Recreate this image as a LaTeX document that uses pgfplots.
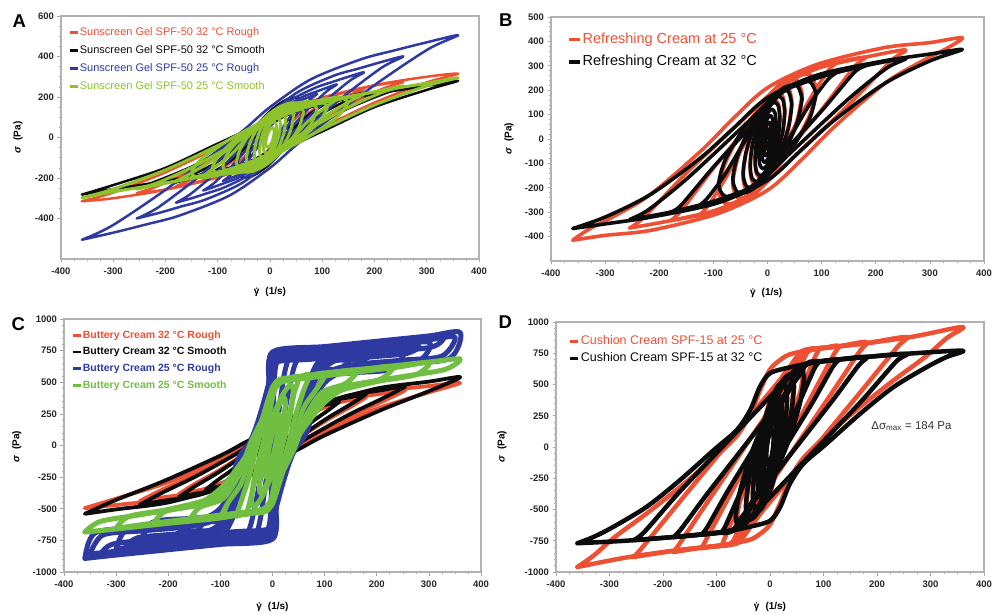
\documentclass[border=0pt]{standalone}
\usepackage{fontspec}
\setmainfont{Liberation Sans}
\usepackage{pgfplots}
\pgfplotsset{compat=1.18}

\definecolor{cRed}{RGB}{238,80,52}
\definecolor{cBlk}{RGB}{12,12,12}
\definecolor{cBlu}{RGB}{46,58,162}
\definecolor{cGrnA}{RGB}{142,194,44}
\definecolor{cGrnC}{RGB}{112,190,66}

% shear rate symbol: gamma with a dot drawn above it
\newcommand{\gdot}{\tikz[baseline=(g.base)]{\node[inner sep=0pt, outer sep=0pt] (g) {γ}; \fill ([yshift=1.4pt]g.north) circle (0.75pt);}}

\pgfplotsset{
  panel/.style={
    scale only axis, anchor=south west,
    xmin=-400, xmax=400, xtick={-400,-300,...,400},
    minor x tick num=3,
    tick align=outside, tick pos=left,
    major tick length=3.5pt, minor tick length=2pt,
    axis line style={gray!60, line width=1.1pt},
    tick style={gray!70, line width=0.6pt},
    tick label style={font=\bfseries\fontsize{9.5}{11}\selectfont, text=black!85},
    xticklabel style={yshift=-2pt},
    /pgf/number format/assume math mode=true,
    /pgf/number format/1000 sep={},
    legend cell align=left,
    legend image code/.code={\draw[##1] (0pt,0pt) -- (8pt,0pt);},
    xlabel={\gdot\hspace{0.6em}(1/s)},
    ylabel={\textit{σ}\hspace{0.6em}(Pa)},
    label style={font=\bfseries\fontsize{10}{12}\selectfont},
  },
  lp/.style={smooth, forget plot, line join=round, line cap=round},
  aR/.style={lp, cRed, line width=2.5pt},
  aK/.style={lp, cBlk, line width=2.5pt},
  aB/.style={lp, cBlu, line width=2.5pt},
  aG/.style={lp, cGrnA, line width=3pt},
  bR/.style={lp, cRed, line width=3.6pt},
  bK/.style={lp, cBlk, line width=3.6pt},
  cR/.style={lp, cRed, line width=3.8pt},
  cK/.style={lp, cBlk, line width=3.8pt},
  cB/.style={lp, cBlu, line width=5pt},
  cG/.style={lp, cGrnC, line width=5pt},
  dR/.style={lp, cRed, line width=4.5pt},
  dK/.style={lp, cBlk, line width=4.5pt},
}

\begin{document}
\begin{tikzpicture}
\useasboundingbox (0pt,0pt) rectangle (997pt,614pt);

%% ---------------- A: sunscreen gel ----------------
\begin{axis}[panel, at={(61pt,355pt)}, width=418pt, height=243pt,
  ymin=-600, ymax=600, ytick={-400,-200,...,600}, minor y tick num=3,
  xlabel style={at={(axis description cs:0.5,-0.136)}, anchor=center},
  ylabel style={at={(axis description cs:-0.103,0.5)}, anchor=center},
  legend style={at={(axis description cs:0.017,0.958)}, anchor=north west,
    draw=none, fill=none, inner sep=0pt, row sep=5.4pt,
    font=\fontsize{11}{12}\selectfont,
    nodes={inner sep=1pt, text height=8pt, text depth=2.5pt}},
]
\addlegendimage{cRed, line width=2.6pt}\addlegendentry{\textcolor{cRed}{Sunscreen Gel SPF-50 32 °C Rough}}
\addlegendimage{cBlk, line width=2.6pt}\addlegendentry{\textcolor{cBlk}{Sunscreen Gel SPF-50 32 °C Smooth}}
\addlegendimage{cBlu, line width=2.6pt}\addlegendentry{\textcolor{cBlu}{Sunscreen Gel SPF-50 25 °C Rough}}
\addlegendimage{cGrnA, line width=2.6pt}\addlegendentry{\textcolor{cGrnA}{Sunscreen Gel SPF-50 25 °C Smooth}}
% 32 C rough
\addplot[aR] coordinates {(-360,-315) (-300,-272) (-200,-172) (-100,-48) (0,95) (100,190) (200,258) (300,300) (360,315) (300,272) (200,172) (100,48) (0,-95) (-100,-190) (-200,-258) (-300,-300) (-360,-315)};
\addplot[aR] coordinates {(-255,-275) (-212,-237) (-142,-150) (-71,-42) (0,83) (71,166) (142,225) (212,262) (255,275) (212,237) (142,150) (71,42) (0,-83) (-71,-166) (-142,-225) (-212,-262) (-255,-275)};
\addplot[aR] coordinates {(-180,-240) (-150,-207) (-100,-131) (-50,-36) (0,72) (50,145) (100,197) (150,228) (180,240) (150,207) (100,131) (50,36) (0,-72) (-50,-145) (-100,-197) (-150,-228) (-180,-240)};
\addplot[aR] coordinates {(-128,-210) (-107,-181) (-71,-115) (-36,-32) (0,63) (36,127) (71,172) (107,200) (128,210) (107,181) (71,115) (36,32) (0,-63) (-36,-127) (-71,-172) (-107,-200) (-128,-210)};
\addplot[aR] coordinates {(-90,-180) (-75,-155) (-50,-98) (-25,-27) (0,54) (25,109) (50,147) (75,171) (90,180) (75,155) (50,98) (25,27) (0,-54) (-25,-109) (-50,-147) (-75,-171) (-90,-180)};
% 32 C smooth
\addplot[aK] coordinates {(-360,-282) (-300,-235) (-200,-150) (-100,-30) (0,85) (100,165) (200,215) (300,255) (360,280) (300,235) (200,150) (100,30) (0,-85) (-100,-165) (-200,-215) (-300,-255) (-360,-282)};
\addplot[aK] coordinates {(-255,-250) (-212,-210) (-142,-134) (-71,-27) (0,76) (71,147) (142,192) (212,228) (255,250) (212,210) (142,134) (71,27) (0,-76) (-71,-147) (-142,-192) (-212,-228) (-255,-250)};
\addplot[aK] coordinates {(-180,-222) (-150,-186) (-100,-119) (-50,-24) (0,67) (50,131) (100,170) (150,202) (180,222) (150,186) (100,119) (50,24) (0,-67) (-50,-131) (-100,-170) (-150,-202) (-180,-222)};
\addplot[aK] coordinates {(-128,-200) (-107,-168) (-71,-107) (-36,-21) (0,61) (36,118) (71,154) (107,182) (128,200) (107,168) (71,107) (36,21) (0,-61) (-36,-118) (-71,-154) (-107,-182) (-128,-200)};
\addplot[aK] coordinates {(64,150) (55,195) (32,188) (0,130) (-32,38) (-55,-65) (-64,-150) (-55,-195) (-32,-188) (0,-130) (32,-38) (55,65) (64,150)};
\addplot[aK] coordinates {(40,110) (35,155) (20,159) (0,120) (-20,49) (-35,-35) (-40,-110) (-35,-155) (-20,-159) (0,-120) (20,-49) (35,35) (40,110)};
% 25 C rough
\addplot[aB] coordinates {(-360,-505) (-304,-438) (-209,-275) (-113,-90) (-49,40) (0,150) (78,287) (174,386) (238,430) (300,470) (360,505) (304,438) (209,275) (113,90) (49,-40) (0,-150) (-78,-287) (-174,-386) (-238,-430) (-300,-470) (-360,-505)};
\addplot[aB] coordinates {(-255,-400) (-215,-347) (-148,-218) (-80,-71) (-35,32) (0,119) (55,227) (123,306) (169,340) (212,372) (255,400) (215,347) (148,218) (80,71) (35,-32) (0,-119) (-55,-227) (-123,-306) (-169,-340) (-212,-372) (-255,-400)};
\addplot[aB] coordinates {(-180,-322) (-152,-279) (-104,-175) (-57,-57) (-24,25) (0,96) (39,183) (87,246) (119,274) (150,300) (180,322) (152,279) (104,175) (57,57) (24,-25) (0,-96) (-39,-183) (-87,-246) (-119,-274) (-150,-300) (-180,-322)};
\addplot[aB] coordinates {(-128,-262) (-108,-227) (-74,-143) (-40,-47) (-17,21) (0,78) (28,149) (62,200) (85,223) (107,244) (128,262) (108,227) (74,143) (40,47) (17,-21) (0,-78) (-28,-149) (-62,-200) (-85,-223) (-107,-244) (-128,-262)};
\addplot[aB] coordinates {(-90,-215) (-76,-186) (-52,-117) (-28,-38) (-12,17) (0,64) (20,122) (43,164) (59,183) (75,200) (90,215) (76,186) (52,117) (28,38) (12,-17) (0,-64) (-20,-122) (-43,-164) (-59,-183) (-75,-200) (-90,-215)};
\addplot[aB] coordinates {(-64,-178) (-54,-154) (-37,-97) (-20,-32) (-9,14) (0,53) (14,101) (31,136) (42,151) (53,166) (64,178) (54,154) (37,97) (20,32) (9,-14) (0,-53) (-14,-101) (-31,-136) (-42,-151) (-53,-166) (-64,-178)};
% 25 C smooth
\addplot[aG] coordinates {(-360,-298) (-300,-255) (-200,-160) (-100,-40) (0,90) (100,175) (200,225) (300,268) (360,295) (300,255) (200,160) (100,40) (0,-90) (-100,-175) (-200,-225) (-300,-268) (-360,-298)};
\addplot[aG] coordinates {(-255,-255) (-212,-220) (-142,-138) (-71,-35) (0,78) (71,151) (142,195) (212,232) (255,255) (212,220) (142,138) (71,35) (0,-78) (-71,-151) (-142,-195) (-212,-232) (-255,-255)};
\addplot[aG] coordinates {(-180,-215) (-150,-175) (-100,-95) (-50,5) (0,95) (50,145) (100,172) (150,198) (180,215) (150,175) (100,95) (50,-5) (0,-95) (-50,-145) (-100,-172) (-150,-198) (-180,-215)};
\addplot[aG] coordinates {(150,175) (130,199) (75,170) (0,95) (-75,-6) (-130,-104) (-150,-175) (-130,-199) (-75,-170) (0,-95) (75,6) (130,104) (150,175)};
\addplot[aG] coordinates {(-128,-190) (-107,-150) (-71,-75) (-36,20) (0,100) (36,140) (71,162) (107,180) (128,190) (107,150) (71,75) (36,-20) (0,-100) (-36,-140) (-71,-162) (-107,-180) (-128,-190)};
\addplot[aG] coordinates {(110,150) (95,180) (55,162) (0,100) (-55,12) (-95,-80) (-110,-150) (-95,-180) (-55,-162) (0,-100) (55,-12) (95,80) (110,150)};
\addplot[aG] coordinates {(90,140) (78,176) (45,165) (0,110) (-45,25) (-78,-66) (-90,-140) (-78,-176) (-45,-165) (0,-110) (45,-25) (78,66) (90,140)};
\addplot[aG] coordinates {(64,125) (55,168) (32,166) (0,120) (-32,41) (-55,-48) (-64,-125) (-55,-168) (-32,-166) (0,-120) (32,-41) (55,48) (64,125)};
\addplot[aG] coordinates {(45,105) (39,151) (23,156) (0,120) (-23,51) (-39,-31) (-45,-105) (-39,-151) (-23,-156) (0,-120) (23,-51) (39,31) (45,105)};
\addplot[aG] coordinates {(30,85) (26,131) (15,142) (0,115) (-15,57) (-26,-16) (-30,-85) (-26,-131) (-15,-142) (0,-115) (15,-57) (26,16) (30,85)};
\addplot[aG] coordinates {(20,65) (17,101) (10,110) (0,90) (-10,45) (-17,-11) (-20,-65) (-17,-101) (-10,-110) (0,-90) (10,-45) (17,11) (20,65)};
\addplot[aG] coordinates {(13,45) (11,71) (6.5,78) (0,65) (-6.5,33) (-11,-6) (-13,-45) (-11,-71) (-6.5,-78) (0,-65) (6.5,-33) (11,6) (13,45)};
\addplot[aG] coordinates {(8,28) (7,44) (4,49) (0,40) (-4,21) (-7,-4) (-8,-28) (-7,-44) (-4,-49) (0,-40) (4,-21) (7,4) (8,28)};
\end{axis}

%% ---------------- B: refreshing cream ----------------
\begin{axis}[panel, at={(551pt,353pt)}, width=433pt, height=244pt,
  ymin=-500, ymax=500, ytick={-400,-300,...,500}, minor y tick num=4,
  xlabel style={at={(axis description cs:0.497,-0.131)}, anchor=center},
  ylabel style={at={(axis description cs:-0.097,0.5)}, anchor=center},
  legend style={at={(axis description cs:0.037,0.94)}, anchor=north west,
    draw=none, fill=none, inner sep=0pt, row sep=6.9pt,
    font=\fontsize{14.5}{16}\selectfont,
    nodes={inner sep=1pt, text height=10.5pt, text depth=3.1pt}},
  legend image code/.code={\draw[#1] (0pt,0pt) -- (11pt,0pt);},
]
\addlegendimage{cRed, line width=3.4pt}\addlegendentry{\textcolor{cRed}{Refreshing Cream at 25 °C}}
\addlegendimage{cBlk, line width=3.4pt}\addlegendentry{\textcolor{cBlk}{Refreshing Cream at 32 °C}}
% 25 C
\addplot[bR] coordinates {(-360,-415) (-330,-370) (-277,-309) (-216,-227) (-123,-49) (-62,87) (0,210) (92,306) (215,374) (300,395) (360,415) (330,370) (277,309) (216,227) (123,49) (62,-87) (0,-210) (-92,-306) (-215,-374) (-300,-395) (-360,-415)};
\addplot[bR] coordinates {(-255,-365) (-228,-320) (-150,-140) (-60,49) (0,175) (35,245) (90,290) (180,335) (255,365) (228,320) (150,140) (60,-49) (0,-175) (-35,-245) (-90,-290) (-180,-335) (-255,-365)};
\addplot[bR] coordinates {(-180,-335) (-160,-295) (-100,-120) (-40,42) (0,150) (30,230) (60,270) (120,310) (180,335) (160,295) (100,120) (40,-42) (0,-150) (-30,-230) (-60,-270) (-120,-310) (-180,-335)};
\addplot[bR] coordinates {(-128,-315) (-112,-280) (-80,-170) (-45,-30) (0,150) (30,220) (65,265) (100,295) (128,315) (112,280) (80,170) (45,30) (0,-150) (-30,-220) (-65,-265) (-100,-295) (-128,-315)};
\addplot[bR] coordinates {(90,210) (78,264) (45,248) (0,165) (-45,38) (-78,-99) (-90,-210) (-78,-264) (-45,-248) (0,-165) (45,-38) (78,99) (90,210)};
\addplot[bR] coordinates {(64,185) (55,240) (32,231) (0,160) (-32,46) (-55,-80) (-64,-185) (-55,-240) (-32,-231) (0,-160) (32,-46) (55,80) (64,185)};
\addplot[bR] coordinates {(45,155) (39,211) (23,211) (0,155) (-23,56) (-39,-56) (-45,-155) (-39,-211) (-23,-211) (0,-155) (23,-56) (39,56) (45,155)};
\addplot[bR] coordinates {(32,120) (28,176) (16,185) (0,145) (-16,65) (-28,-31) (-32,-120) (-28,-176) (-16,-185) (0,-145) (16,-65) (28,31) (32,120)};
\addplot[bR] coordinates {(23,92) (20,145) (12,160) (0,132) (-12,68) (-20,-14) (-23,-92) (-20,-145) (-12,-160) (0,-132) (12,-68) (20,14) (23,92)};
% 32 C
\addplot[bK] coordinates {(-360,-367) (-300,-320) (-216,-227) (-123,-76) (-62,46) (0,169) (92,262) (215,320) (300,348) (360,367) (300,320) (216,227) (123,76) (62,-46) (0,-169) (-92,-262) (-215,-320) (-300,-348) (-360,-367)};
\addplot[bK] coordinates {(-255,-330) (-220,-290) (-150,-165) (-60,20) (0,145) (35,205) (90,250) (180,300) (255,330) (220,290) (150,165) (60,-20) (0,-145) (-35,-205) (-90,-250) (-180,-300) (-255,-330)};
\addplot[bK] coordinates {(-180,-300) (-160,-272) (-100,-115) (-40,29) (0,125) (28,195) (60,225) (120,270) (180,300) (160,272) (100,115) (40,-29) (0,-125) (-28,-195) (-60,-225) (-120,-270) (-180,-300)};
\addplot[bK] coordinates {(-128,-275) (-112,-245) (-80,-150) (-45,-20) (0,130) (30,195) (65,235) (100,260) (128,275) (112,245) (80,150) (45,20) (0,-130) (-30,-195) (-65,-235) (-100,-260) (-128,-275)};
\addplot[bK] coordinates {(90,185) (78,235) (45,222) (0,150) (-45,37) (-78,-85) (-90,-185) (-78,-235) (-45,-222) (0,-150) (45,-37) (78,85) (90,185)};
\addplot[bK] coordinates {(64,165) (55,218) (32,212) (0,150) (-32,47) (-55,-68) (-64,-165) (-55,-218) (-32,-212) (0,-150) (32,-47) (55,68) (64,165)};
\addplot[bK] coordinates {(45,140) (39,193) (23,196) (0,145) (-23,56) (-39,-48) (-45,-140) (-39,-193) (-23,-196) (0,-145) (23,-56) (39,48) (45,140)};
\addplot[bK] coordinates {(32,110) (28,164) (16,174) (0,138) (-16,64) (-28,-26) (-32,-110) (-28,-164) (-16,-174) (0,-138) (16,-64) (28,26) (32,110)};
\addplot[bK] coordinates {(23,85) (20,136) (12,150) (0,125) (-12,65) (-20,-11) (-23,-85) (-20,-136) (-12,-150) (0,-125) (12,-65) (20,11) (23,85)};
\addplot[bK] coordinates {(16,62) (14,106) (8,122) (0,105) (-8,60) (-14,-1) (-16,-62) (-14,-106) (-8,-122) (0,-105) (8,-60) (14,1) (16,62)};
\addplot[bK] coordinates {(11,45) (9.5,81) (5.5,96) (0,85) (-5.5,51) (-9.5,3) (-11,-45) (-9.5,-81) (-5.5,-96) (0,-85) (5.5,-51) (9.5,-3) (11,45)};
\addplot[bK] coordinates {(7,30) (6,57) (3.5,69) (0,62) (-3.5,39) (-6,5) (-7,-30) (-6,-57) (-3.5,-69) (0,-62) (3.5,-39) (6,-5) (7,30)};
\addplot[bK] coordinates {(4,16) (3.5,33) (2,41) (0,38) (-2,25) (-3.5,5) (-4,-16) (-3.5,-33) (-2,-41) (0,-38) (2,-25) (3.5,-5) (4,16)};
\end{axis}

%% ---------------- C: buttery cream ----------------
\begin{axis}[panel, at={(64pt,42pt)}, width=417pt, height=253pt,
  ymin=-1000, ymax=1000, ytick={-1000,-750,...,1000}, minor y tick num=4,
  xlabel style={at={(axis description cs:0.5,-0.138)}, anchor=center},
  ylabel style={at={(axis description cs:-0.113,0.494)}, anchor=center},
  legend style={at={(axis description cs:0.017,0.96)}, anchor=north west,
    draw=none, fill=none, inner sep=0pt, row sep=4.6pt,
    font=\bfseries\fontsize{10.5}{12}\selectfont,
    nodes={inner sep=1pt, text height=7.8pt, text depth=2.3pt}},
]
\addlegendimage{cRed, line width=2.6pt}\addlegendentry{\textcolor{cRed}{Buttery Cream 32 °C Rough}}
\addlegendimage{cBlk, line width=2.6pt}\addlegendentry{\textcolor{cBlk}{Buttery Cream 32 °C Smooth}}
\addlegendimage{cBlu, line width=2.6pt}\addlegendentry{\textcolor{cBlu}{Buttery Cream 25 °C Rough}}
\addlegendimage{cGrnC, line width=2.6pt}\addlegendentry{\textcolor{cGrnC}{Buttery Cream 25 °C Smooth}}
% 32 C rough
\addplot[cR] coordinates {(-360,-495) (-300,-420) (-200,-290) (-100,-110) (-50,0) (0,100) (100,300) (200,420) (300,470) (360,495) (300,420) (200,290) (100,110) (50,0) (0,-100) (-100,-300) (-200,-420) (-300,-470) (-360,-495)};
\addplot[cR] coordinates {(-255,-440) (-212,-350) (-147,-228) (-71,-65) (-35,25) (0,106) (71,269) (142,367) (212,411) (255,440) (212,350) (147,228) (71,65) (35,-25) (0,-106) (-71,-269) (-142,-367) (-212,-411) (-255,-440)};
\addplot[cR] coordinates {(-180,-385) (-150,-306) (-104,-200) (-50,-57) (-25,22) (0,93) (50,235) (100,321) (150,360) (180,385) (150,306) (104,200) (50,57) (25,-22) (0,-93) (-50,-235) (-100,-321) (-150,-360) (-180,-385)};
% 32 C smooth
\addplot[cK] coordinates {(-360,-540) (-300,-430) (-208,-280) (-100,-80) (-50,30) (0,130) (100,330) (200,450) (300,505) (360,540) (300,430) (208,280) (100,80) (50,-30) (0,-130) (-100,-330) (-200,-450) (-300,-505) (-360,-540)};
\addplot[cK] coordinates {(-255,-470) (-212,-374) (-147,-244) (-71,-70) (-35,26) (0,113) (71,287) (142,392) (212,439) (255,470) (212,374) (147,244) (71,70) (35,-26) (0,-113) (-71,-287) (-142,-392) (-212,-439) (-255,-470)};
\addplot[cK] coordinates {(-180,-410) (-150,-326) (-104,-213) (-50,-61) (-25,23) (0,99) (50,251) (100,342) (150,383) (180,410) (150,326) (104,213) (50,61) (25,-23) (0,-99) (-50,-251) (-100,-342) (-150,-383) (-180,-410)};
\addplot[cK] coordinates {(-128,-350) (-107,-279) (-74,-182) (-36,-52) (-18,20) (0,84) (36,214) (71,292) (107,327) (128,350) (107,279) (74,182) (36,52) (18,-20) (0,-84) (-36,-214) (-71,-292) (-107,-327) (-128,-350)};
\addplot[cK] coordinates {(-90,-290) (-75,-231) (-52,-151) (-25,-43) (-12.5,16) (0,70) (25,177) (50,242) (75,271) (90,290) (75,231) (52,151) (25,43) (12.5,-16) (0,-70) (-25,-177) (-50,-242) (-75,-271) (-90,-290)};
% 25 C rough
\addplot[cB] coordinates {(-360,-893) (-340,-690) (-250,-645) (-150,-600) (-95,-470) (-58,-60) (-22,130) (-3,470) (0,740) (100,782) (200,824) (300,866) (360,893) (340,690) (250,645) (150,600) (95,470) (58,60) (22,-130) (3,-470) (0,-740) (-100,-782) (-200,-824) (-300,-866) (-360,-893)};
\addplot[cB] coordinates {(-350,-857) (-325,-707) (-250,-675) (-150,-633) (-100,-540) (-65,-100) (-28,110) (-6,450) (0,710) (100,752) (200,794) (300,836) (350,857) (325,707) (250,675) (150,633) (100,540) (65,100) (28,-110) (6,-450) (0,-710) (-100,-752) (-200,-794) (-300,-836) (-350,-857)};
\addplot[cB] coordinates {(-330,-864) (-305,-778) (-200,-734) (-120,-700) (-80,-560) (-55,-80) (-20,120) (-4,460) (0,725) (100,767) (200,809) (300,851) (330,864) (305,778) (200,734) (120,700) (80,560) (55,80) (20,-120) (4,-460) (0,-725) (-100,-767) (-200,-809) (-300,-851) (-330,-864)};
\addplot[cB] coordinates {(-300,-816) (-278,-660) (-200,-625) (-120,-590) (-85,-420) (-60,-90) (-25,120) (-5,460) (0,690) (100,732) (200,774) (300,816) (278,660) (200,625) (120,590) (85,420) (60,90) (25,-120) (5,-460) (0,-690) (-100,-732) (-200,-774) (-300,-816)};
\addplot[cB] coordinates {(-280,-788) (-258,-728) (-200,-704) (-120,-670) (-80,-500) (-58,-80) (-24,120) (-5,460) (0,670) (100,712) (200,754) (280,788) (258,728) (200,704) (120,670) (80,500) (58,80) (24,-120) (5,-460) (0,-670) (-100,-712) (-200,-754) (-280,-788)};
\addplot[cB] coordinates {(-255,-787) (-230,-607) (-150,-573) (-95,-520) (-62,-150) (-32,140) (-8,480) (0,680) (100,722) (200,764) (255,787) (230,607) (150,573) (95,520) (62,150) (32,-140) (8,-480) (0,-680) (-100,-722) (-200,-764) (-255,-787)};
\addplot[cB] coordinates {(-200,-804) (-178,-685) (-100,-652) (-70,-400) (-45,-20) (-18,120) (-4,450) (0,720) (100,762) (200,804) (178,685) (100,652) (70,400) (45,20) (18,-120) (4,-450) (0,-720) (-100,-762) (-200,-804)};
\addplot[cB] coordinates {(-150,-713) (-128,-604) (-80,-584) (-55,-250) (-30,100) (-8,460) (0,650) (75,682) (150,713) (128,604) (80,584) (55,250) (30,-100) (8,-460) (0,-650) (-75,-682) (-150,-713)};
\addplot[cB] coordinates {(-100,-737) (-82,-624) (-58,-380) (-40,-60) (-20,160) (-5,450) (0,695) (50,716) (100,737) (82,624) (58,380) (40,60) (20,-160) (5,-450) (0,-695) (-50,-716) (-100,-737)};
\addplot[cB] coordinates {(-50,-720) (-40,-600) (-25,-300) (-10,100) (0,500) (5,700) (25,710) (50,720) (40,600) (25,300) (10,-100) (0,-500) (-5,-700) (-25,-710) (-50,-720)};
\addplot[cB] coordinates {(-30,-700) (-22,-550) (-10,-200) (0,200) (5,600) (15,690) (30,700) (22,550) (10,200) (0,-200) (-5,-600) (-15,-690) (-30,-700)};
% 25 C smooth
\addplot[cG] coordinates {(-360,-684) (-330,-600) (-250,-545) (-150,-470) (-100,-340) (-55,-107) (-23,130) (-4,341) (9,512) (48,539) (112,579) (200,615) (300,660) (360,684) (330,600) (250,545) (150,470) (100,340) (55,107) (23,-130) (4,-341) (-9,-512) (-48,-539) (-112,-579) (-200,-615) (-300,-660) (-360,-684)};
\addplot[cG] coordinates {(-300,-655) (-275,-560) (-200,-505) (-120,-420) (-80,-300) (-50,-90) (-20,140) (-2,350) (9,500) (60,530) (150,575) (240,620) (300,655) (275,560) (200,505) (120,420) (80,300) (50,90) (20,-140) (2,-350) (-9,-500) (-60,-530) (-150,-575) (-240,-620) (-300,-655)};
\addplot[cG] coordinates {(-230,-625) (-205,-520) (-140,-470) (-90,-380) (-62,-200) (-42,20) (-15,250) (3,450) (12,505) (80,545) (160,590) (230,625) (205,520) (140,470) (90,380) (62,200) (42,-20) (15,-250) (-3,-450) (-12,-505) (-80,-545) (-160,-590) (-230,-625)};
\addplot[cG] coordinates {(-160,-595) (-140,-490) (-95,-420) (-65,-240) (-45,-40) (-22,180) (-5,400) (10,500) (80,550) (160,595) (140,490) (95,420) (65,240) (45,40) (22,-180) (5,-400) (-10,-500) (-80,-550) (-160,-595)};
\addplot[cG] coordinates {(-100,-570) (-85,-450) (-60,-300) (-45,-110) (-28,100) (-10,330) (5,480) (50,530) (100,570) (85,450) (60,300) (45,110) (28,-100) (10,-330) (-5,-480) (-50,-530) (-100,-570)};
\addplot[cG] coordinates {(-70,-560) (-60,-440) (-45,-250) (-32,-40) (-18,180) (-5,380) (5,490) (35,520) (70,560) (60,440) (45,250) (32,40) (18,-180) (5,-380) (-5,-490) (-35,-520) (-70,-560)};
\addplot[cG] coordinates {(-50,-545) (-42,-420) (-30,-200) (-18,20) (-6,250) (3,430) (20,510) (50,545) (42,420) (30,200) (18,-20) (6,-250) (-3,-430) (-20,-510) (-50,-545)};
\addplot[cG] coordinates {(40,430) (35,482) (20,405) (0,220) (-20,-25) (-35,-262) (-40,-430) (-35,-482) (-20,-405) (0,-220) (20,25) (35,262) (40,430)};
\addplot[cG] coordinates {(25,340) (22,379) (12.5,317) (0,170) (-12.5,-23) (-22,-209) (-25,-340) (-22,-379) (-12.5,-317) (0,-170) (12.5,23) (22,209) (25,340)};
\addplot[cG] coordinates {(14,230) (12,249) (7,202) (0,100) (-7,-28) (-12,-149) (-14,-230) (-12,-249) (-7,-202) (0,-100) (7,28) (12,149) (14,230)};
\end{axis}

%% ---------------- D: cushion cream ----------------
\begin{axis}[panel, at={(556pt,42pt)}, width=428pt, height=250pt,
  ymin=-1000, ymax=1000, ytick={-1000,-750,...,1000}, minor y tick num=4,
  xlabel style={at={(axis description cs:0.5,-0.14)}, anchor=center},
  ylabel style={at={(axis description cs:-0.126,0.5)}, anchor=center},
  legend style={at={(axis description cs:0.03,0.952)}, anchor=north west,
    draw=none, fill=none, inner sep=0pt, row sep=3.5pt,
    font=\fontsize{12.5}{14}\selectfont,
    nodes={inner sep=1pt, text height=9.1pt, text depth=2.7pt}},
]
\addlegendimage{cRed, line width=2.8pt}\addlegendentry{\textcolor{cRed}{Cushion Cream SPF-15 at 25 °C}}
\addlegendimage{cBlk, line width=2.8pt}\addlegendentry{\textcolor{cBlk}{Cushion Cream SPF-15 at 32 °C}}
% 25 C
\addplot[dR] coordinates {(-360,-960) (-330,-870) (-290,-720) (-230,-530) (-168,-320) (-105,-90) (-62,90) (-37,260) (-19,450) (0,620) (20,700) (40,745) (90,785) (180,830) (270,885) (360,960) (330,870) (290,720) (230,530) (168,320) (105,90) (62,-90) (37,-260) (19,-450) (0,-620) (-20,-700) (-40,-745) (-90,-785) (-180,-830) (-270,-885) (-360,-960)};
\addplot[dR] coordinates {(-255,-880) (-238,-800) (-170,-444) (-90,-28) (-30,284) (0,440) (30,596) (62,765) (128,805) (180,830) (255,880) (238,800) (170,444) (90,28) (30,-284) (0,-440) (-30,-596) (-62,-765) (-128,-805) (-180,-830) (-255,-880)};
\addplot[dR] coordinates {(-180,-840) (-166,-755) (-120,-460) (-60,-80) (0,300) (30,490) (60,680) (76,777) (128,805) (180,840) (166,755) (120,460) (60,80) (0,-300) (-30,-490) (-60,-680) (-76,-777) (-128,-805) (-180,-840)};
\addplot[dR] coordinates {(-128,-810) (-118,-730) (-80,-424) (-40,-102) (0,220) (30,462) (60,703) (70,778) (100,792) (128,810) (118,730) (80,424) (40,102) (0,-220) (-30,-462) (-60,-703) (-70,-778) (-100,-792) (-128,-810)};
\addplot[dR] coordinates {(-90,-785) (-82,-701) (-50,-365) (-20,-50) (0,160) (20,370) (45,633) (59,765) (90,785) (82,701) (50,365) (20,50) (0,-160) (-20,-370) (-45,-633) (-59,-765) (-90,-785)};
\addplot[dR] coordinates {(64,650) (55,723) (32,602) (0,320) (-32,-48) (-55,-403) (-64,-650) (-55,-723) (-32,-602) (0,-320) (32,48) (55,403) (64,650)};
\addplot[dR] coordinates {(45,520) (39,625) (23,563) (0,350) (-23,43) (-39,-275) (-45,-520) (-39,-625) (-23,-563) (0,-350) (23,-43) (39,275) (45,520)};
\addplot[dR] coordinates {(32,400) (28,531) (16,520) (0,370) (-16,120) (-28,-161) (-32,-400) (-28,-531) (-16,-520) (0,-370) (16,-120) (28,161) (32,400)};
% 32 C
\addplot[dK] coordinates {(-360,-770) (-330,-720) (-292,-637) (-230,-477) (-168,-264) (-105,-24) (-62,136) (-37,296) (-19,480) (0,590) (40,640) (90,680) (180,720) (270,750) (360,770) (330,720) (292,637) (230,477) (168,264) (105,24) (62,-136) (37,-296) (19,-480) (0,-590) (-40,-640) (-90,-680) (-180,-720) (-270,-750) (-360,-770)};
\addplot[dK] coordinates {(-255,-745) (-235,-680) (-170,-363) (-90,-3) (-30,267) (0,402) (30,537) (60,655) (120,697) (180,720) (255,745) (235,680) (170,363) (90,3) (30,-267) (0,-402) (-30,-537) (-60,-655) (-120,-697) (-180,-720) (-255,-745)};
\addplot[dK] coordinates {(-180,-720) (-165,-650) (-120,-390) (-60,-60) (0,270) (30,435) (55,572) (72,668) (128,700) (180,720) (165,650) (120,390) (60,60) (0,-270) (-30,-435) (-55,-572) (-72,-668) (-128,-700) (-180,-720)};
\addplot[dK] coordinates {(-128,-700) (-117,-640) (-80,-360) (-40,-80) (0,200) (30,410) (66,662) (100,688) (128,700) (117,640) (80,360) (40,80) (0,-200) (-30,-410) (-66,-662) (-100,-688) (-128,-700)};
\addplot[dK] coordinates {(-90,-680) (-82,-620) (-50,-310) (-20,-34) (0,150) (20,334) (45,564) (60,650) (90,680) (82,620) (50,310) (20,34) (0,-150) (-20,-334) (-45,-564) (-60,-650) (-90,-680)};
\addplot[dK] coordinates {(64,560) (55,635) (32,540) (0,300) (-32,-20) (-55,-335) (-64,-560) (-55,-635) (-32,-540) (0,-300) (32,20) (55,335) (64,560)};
\addplot[dK] coordinates {(45,480) (39,581) (23,526) (0,330) (-23,46) (-39,-251) (-45,-480) (-39,-581) (-23,-526) (0,-330) (23,-46) (39,251) (45,480)};
\addplot[dK] coordinates {(32,380) (28,504) (16,493) (0,350) (-16,113) (-28,-154) (-32,-380) (-28,-504) (-16,-493) (0,-350) (16,-113) (28,154) (32,380)};
\addplot[dK] coordinates {(23,260) (20,385) (12,407) (0,320) (-12,147) (-20,-65) (-23,-260) (-20,-385) (-12,-407) (0,-320) (12,-147) (20,65) (23,260)};
\addplot[dK] coordinates {(16,180) (14,281) (8,306) (0,250) (-8,126) (-14,-31) (-16,-180) (-14,-281) (-8,-306) (0,-250) (8,-126) (14,31) (16,180)};
\addplot[dK] coordinates {(11,120) (9.5,194) (5.5,216) (0,180) (-5.5,96) (-9.5,-14) (-11,-120) (-9.5,-194) (-5.5,-216) (0,-180) (5.5,-96) (9.5,14) (11,120)};
\addplot[dK] coordinates {(7,80) (6,129) (3.5,144) (0,120) (-3.5,64) (-6,-9) (-7,-80) (-6,-129) (-3.5,-144) (0,-120) (3.5,-64) (6,9) (7,80)};
\node[anchor=west, font=\fontsize{11.5}{13}\selectfont, text=black!80] at (axis cs:183,168) {Δσ\textsubscript{max} = 184 Pa};
\end{axis}

%% panel letters
\node[font=\bfseries\fontsize{18.5}{19}\selectfont] at (19.3pt,593.3pt) {A};
\node[font=\bfseries\fontsize{18.5}{19}\selectfont] at (505.8pt,594pt) {B};
\node[font=\bfseries\fontsize{18.5}{19}\selectfont] at (18.3pt,290pt) {C};
\node[font=\bfseries\fontsize{18.5}{19}\selectfont] at (505.3pt,291.5pt) {D};
\end{tikzpicture}
\end{document}
